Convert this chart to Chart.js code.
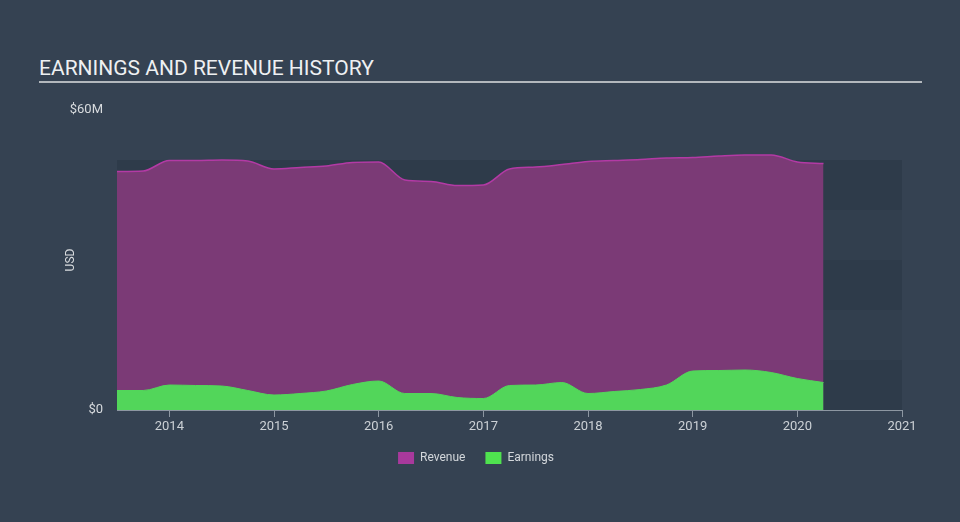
<!DOCTYPE html>
<html>
<head>
<meta charset="utf-8">
<script src="https://cdn.jsdelivr.net/npm/chart.js@4.4.1/dist/chart.umd.min.js"></script>
<style>
  html, body { margin: 0; padding: 0; background: #354252; }
  #wrap { position: relative; width: 960px; height: 522px; overflow: hidden; }
  #title { position: absolute; left: 39px; top: 56px; font-family: Roboto, sans-serif; font-size: 21px; color: #eef0f2; }
  #rule { position: absolute; left: 39px; top: 81px; width: 883px; height: 2px; background: #b3b8bd; }
  canvas { position: absolute; left: 0; top: 0; }
</style>
</head>
<body>
<div id="wrap">
  <div id="title">EARNINGS AND REVENUE HISTORY</div>
  <div id="rule"></div>
  <canvas id="c" width="960" height="522"></canvas>
</div>
<script>
const periods = [2013.5, 2013.75, 2014.0, 2014.25, 2014.5, 2014.75, 2015.0, 2015.25, 2015.5, 2015.75,
  2016.0, 2016.25, 2016.5, 2016.75, 2017.0, 2017.25, 2017.5, 2017.75, 2018.0, 2018.25,
  2018.5, 2018.75, 2019.0, 2019.25, 2019.5, 2019.75, 2020.0, 2020.25];
const revenue = [47.7, 47.8, 49.9, 49.9, 50.0, 49.8, 48.2, 48.5, 48.8, 49.5,
  49.6, 46.0, 45.7, 44.9, 45.0, 48.2, 48.6, 49.1, 49.7, 49.9,
  50.1, 50.4, 50.5, 50.8, 51.0, 51.0, 49.6, 49.3];
const earnings = [3.9, 3.9, 5.0, 4.9, 4.8, 3.9, 3.0, 3.3, 3.8, 5.1,
  5.8, 3.3, 3.3, 2.5, 2.3, 4.9, 5.0, 5.5, 3.3, 3.7,
  4.1, 5.0, 7.8, 7.9, 8.0, 7.5, 6.3, 5.5];
const yearTicks = [2014, 2015, 2016, 2017, 2018, 2019, 2020, 2021];
const yTicks = [0, 60];
const bandEdges = [0, 10, 20, 30, 40, 50];

const toPts = arr => arr.map((v, i) => ({ x: periods[i], y: v }));

const bandsPlugin = {
  id: 'bands',
  beforeDatasetsDraw(chart) {
    const { ctx, chartArea, scales } = chart;
    const y = scales.y;
    ctx.save();
    for (let i = 0; i < bandEdges.length - 1; i++) {
      const top = y.getPixelForValue(bandEdges[i + 1]);
      const bot = y.getPixelForValue(bandEdges[i]);
      ctx.fillStyle = (i % 2 === 0) ? '#2e3b4a' : '#323f4e';
      ctx.fillRect(chartArea.left, top, chartArea.right - chartArea.left, bot - top);
    }
    ctx.restore();
  }
};

const usdPlugin = {
  id: 'usd',
  afterDraw(chart) {
    const { ctx, chartArea } = chart;
    ctx.save();
    ctx.translate(71, (chartArea.top + chartArea.bottom) / 2);
    ctx.rotate(-Math.PI / 2);
    ctx.fillStyle = '#d8dbde';
    ctx.font = '12px Roboto';
    ctx.textAlign = 'center';
    ctx.textBaseline = 'middle';
    ctx.fillText('USD', 0, 0);
    ctx.restore();
  }
};

new Chart(document.getElementById('c'), {
  type: 'line',
  data: {
    datasets: [
      {
        label: 'Revenue',
        data: toPts(revenue),
        borderColor: '#b33aa5',
        backgroundColor: '#7b3a76',
        borderWidth: 1.5,
        fill: 'origin',
        pointRadius: 0,
        cubicInterpolationMode: 'monotone',
        order: 2,
        legendColor: '#a8399c'
      },
      {
        label: 'Earnings',
        data: toPts(earnings),
        borderColor: '#52d65a',
        backgroundColor: '#52d65a',
        borderWidth: 1,
        fill: 'origin',
        pointRadius: 0,
        cubicInterpolationMode: 'monotone',
        order: 1,
        legendColor: '#4fe24f'
      }
    ]
  },
  options: {
    responsive: false,
    animation: false,
    events: [],
    layout: { padding: { left: 0, right: 8, top: 110, bottom: 48 } },
    plugins: {
      tooltip: { enabled: false },
      legend: {
        position: 'bottom',
        labels: {
          color: '#d3d7db',
          font: { family: 'Roboto', size: 12 },
          boxWidth: 16,
          boxHeight: 12,
          padding: 20,
          sort: (a, b) => a.datasetIndex - b.datasetIndex,
          generateLabels(chart) {
            return chart.data.datasets.map((ds, i) => ({
              text: ds.label,
              fillStyle: ds.legendColor,
              strokeStyle: ds.legendColor,
              lineWidth: 0,
              fontColor: '#d3d7db',
              hidden: false,
              datasetIndex: i
            }));
          }
        }
      }
    },
    scales: {
      x: {
        type: 'linear',
        min: 2013.5,
        max: 2021,
        afterBuildTicks(scale) { scale.ticks = yearTicks.map(v => ({ value: v })); },
        afterFit(scale) { scale.height = 22; },
        ticks: {
          color: '#ccd1d6',
          font: { family: 'Roboto', size: 13 },
          padding: 2,
          maxRotation: 0,
          autoSkip: false,
          callback: v => String(v)
        },
        grid: { display: true, drawOnChartArea: false, drawTicks: true, tickLength: 7, color: '#8d97a2', lineWidth: 1 },
        border: { display: true, color: '#8d97a2', width: 1 }
      },
      y: {
        type: 'linear',
        min: 0,
        max: 60,
        afterBuildTicks(scale) { scale.ticks = yTicks.map(v => ({ value: v })); },
        afterFit(scale) { scale.width = 117; },
        ticks: {
          color: '#d8dbde',
          font: { family: 'Roboto', size: 13 },
          padding: 14,
          callback: v => v === 0 ? '$0' : '$' + v + 'M'
        },
        grid: { display: false, drawTicks: false },
        border: { display: false }
      },
      yRight: {
        type: 'linear',
        position: 'right',
        min: 0,
        max: 60,
        afterFit(scale) { scale.width = 50; },
        ticks: { display: false },
        grid: { display: false, drawTicks: false },
        border: { display: false }
      }
    }
  },
  plugins: [bandsPlugin, usdPlugin]
});
</script>
</body>
</html>
